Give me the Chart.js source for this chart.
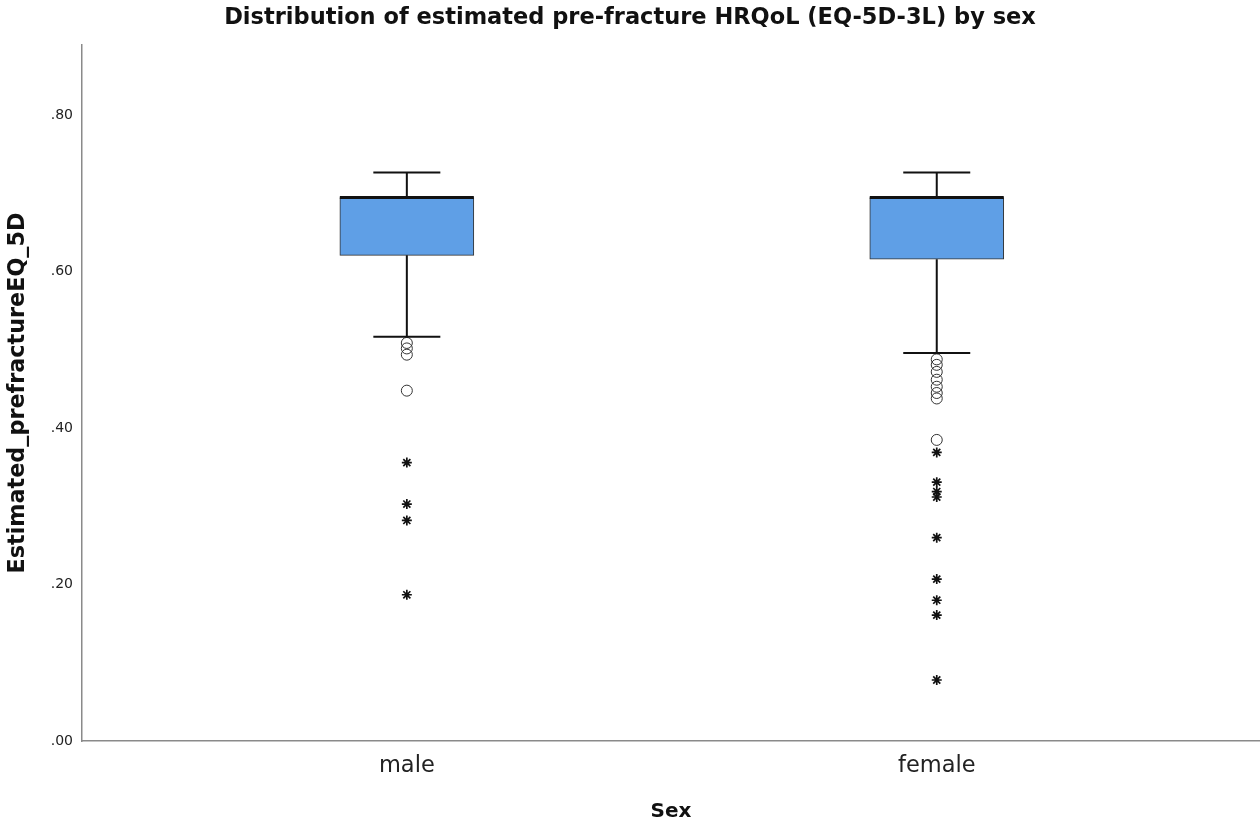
<!DOCTYPE html>
<html>
<head>
<meta charset="utf-8">
<script src="https://cdn.jsdelivr.net/npm/chart.js@4"></script>
<style>
    html, body { margin: 0; padding: 0; background: #fff; overflow: hidden; }
    #box { width: 1260px; height: 827px; position: relative; }
</style>
</head>
<body>
<div id="box"><canvas id="grafico"></canvas></div>
<script>
const grupos = ["male", "female"];
const posicoes = [1, 2];
const bigodeInferior = [0.517, 0.496];
const quartil1 = [0.621, 0.616];
const mediana = [0.695, 0.695];
const quartil3 = [0.695, 0.695];
const bigodeSuperior = [0.727, 0.727];

const maleCirculos = [0.509, 0.502, 0.494, 0.448];
const maleEstrelas = [0.356, 0.303, 0.282, 0.187];
const femaleCirculos = [0.488, 0.481, 0.472, 0.462, 0.453, 0.445, 0.438, 0.385];
const femaleEstrelas = [0.369, 0.331, 0.319, 0.312, 0.260, 0.207, 0.180, 0.161, 0.078];

const yTicks = [0, 0.2, 0.4, 0.6, 0.8];

function pontos(pos, valores) {
    return valores.map(v => ({ x: pos, y: v }));
}

// desenha bigodes e mediana usando as escalas do grafico
const bigodesPlugin = {
    id: "bigodes",
    afterDatasetsDraw(chart) {
        const ctx = chart.ctx;
        const x = chart.scales.x;
        const y = chart.scales.y;
        const meta = chart.getDatasetMeta(0);

        ctx.save();
        ctx.strokeStyle = "#111";
        ctx.lineCap = "butt";

        posicoes.forEach((pos, i) => {
            const cx = x.getPixelForValue(pos);
            const meia = meta.data[i].width / 4;

            ctx.lineWidth = 2;
            ctx.beginPath();
            ctx.moveTo(cx, y.getPixelForValue(quartil3[i]));
            ctx.lineTo(cx, y.getPixelForValue(bigodeSuperior[i]));
            ctx.moveTo(cx, y.getPixelForValue(quartil1[i]));
            ctx.lineTo(cx, y.getPixelForValue(bigodeInferior[i]));
            ctx.moveTo(cx - meia, y.getPixelForValue(bigodeSuperior[i]));
            ctx.lineTo(cx + meia, y.getPixelForValue(bigodeSuperior[i]));
            ctx.moveTo(cx - meia, y.getPixelForValue(bigodeInferior[i]));
            ctx.lineTo(cx + meia, y.getPixelForValue(bigodeInferior[i]));
            ctx.stroke();

            const largura = meta.data[i].width / 2;
            ctx.lineWidth = 3;
            ctx.beginPath();
            ctx.moveTo(cx - largura, y.getPixelForValue(mediana[i]));
            ctx.lineTo(cx + largura, y.getPixelForValue(mediana[i]));
            ctx.stroke();
        });

        ctx.restore();
    }
};

const circuloEstilo = {
    type: "scatter",
    pointStyle: "circle",
    pointRadius: 5.5,
    pointBorderWidth: 1,
    pointBorderColor: "#333",
    pointBackgroundColor: "rgba(255,255,255,0)"
};

const estrelaEstilo = {
    type: "scatter",
    pointStyle: "star",
    pointRadius: 5,
    pointBorderWidth: 1.7,
    pointBorderColor: "#111",
    pointBackgroundColor: "#111"
};

new Chart(document.getElementById("grafico"), {
    type: "bar",
    data: {
        datasets: [
            {
                label: "box",
                data: posicoes.map((pos, i) => ({ x: pos, y: [quartil1[i], quartil3[i]] })),
                backgroundColor: "#5f9fe6",
                borderColor: "#333",
                borderWidth: 1,
                borderSkipped: false,
                barThickness: 134
            },
            { ...circuloEstilo, data: pontos(1, maleCirculos) },
            { ...estrelaEstilo, data: pontos(1, maleEstrelas) },
            { ...circuloEstilo, data: pontos(2, femaleCirculos) },
            { ...estrelaEstilo, data: pontos(2, femaleEstrelas) }
        ]
    },
    options: {
        responsive: true,
        maintainAspectRatio: false,
        animation: false,
        layout: { autoPadding: false, padding: { left: 0, right: 0, top: 0, bottom: 0 } },
        plugins: {
            legend: { display: false },
            tooltip: { enabled: false },
            title: {
                display: true,
                text: "Distribution of estimated pre-fracture HRQoL (EQ-5D-3L) by sex",
                color: "#111",
                font: { family: "DejaVu Sans", size: 22.5, weight: "bold" },
                padding: { top: 5, bottom: 13 }
            }
        },
        scales: {
            x: {
                type: "linear",
                offset: false,
                min: 0.387,
                max: 2.61,
                afterBuildTicks(scale) {
                    scale.ticks = posicoes.map(v => ({ value: v }));
                },
                afterFit(scale) {
                    scale.height = 86;
                    scale.paddingLeft = 0;
                    scale.paddingRight = 0;
                },
                grid: { display: false, drawTicks: false },
                border: { display: true, color: "#8a8a8a", width: 1.5 },
                ticks: {
                    padding: 12,
                    color: "#222",
                    font: { family: "DejaVu Sans", size: 22.5 },
                    callback: v => grupos[posicoes.indexOf(v)] || ""
                },
                title: {
                    display: true,
                    text: "Sex",
                    color: "#111",
                    font: { family: "DejaVu Sans", size: 20, weight: "bold" },
                    padding: { top: 0, bottom: 3 }
                }
            },
            y: {
                min: 0,
                max: 0.89,
                afterBuildTicks(scale) {
                    scale.ticks = yTicks.map(v => ({ value: v }));
                },
                afterFit(scale) {
                    scale.width = 82;
                },
                grid: { display: false, drawTicks: false },
                border: { display: true, color: "#8a8a8a", width: 1.5 },
                ticks: {
                    padding: 9,
                    color: "#222",
                    font: { family: "DejaVu Sans", size: 14 },
                    callback: v => v.toFixed(2).replace(/^0/, "")
                },
                title: {
                    display: true,
                    text: "Estimated_prefractureEQ_5D",
                    color: "#111",
                    font: { family: "DejaVu Sans", size: 22.3, weight: "bold" },
                    padding: { top: 5, bottom: 0 }
                }
            }
        }
    },
    plugins: [bigodesPlugin]
});
</script>
</body>
</html>
